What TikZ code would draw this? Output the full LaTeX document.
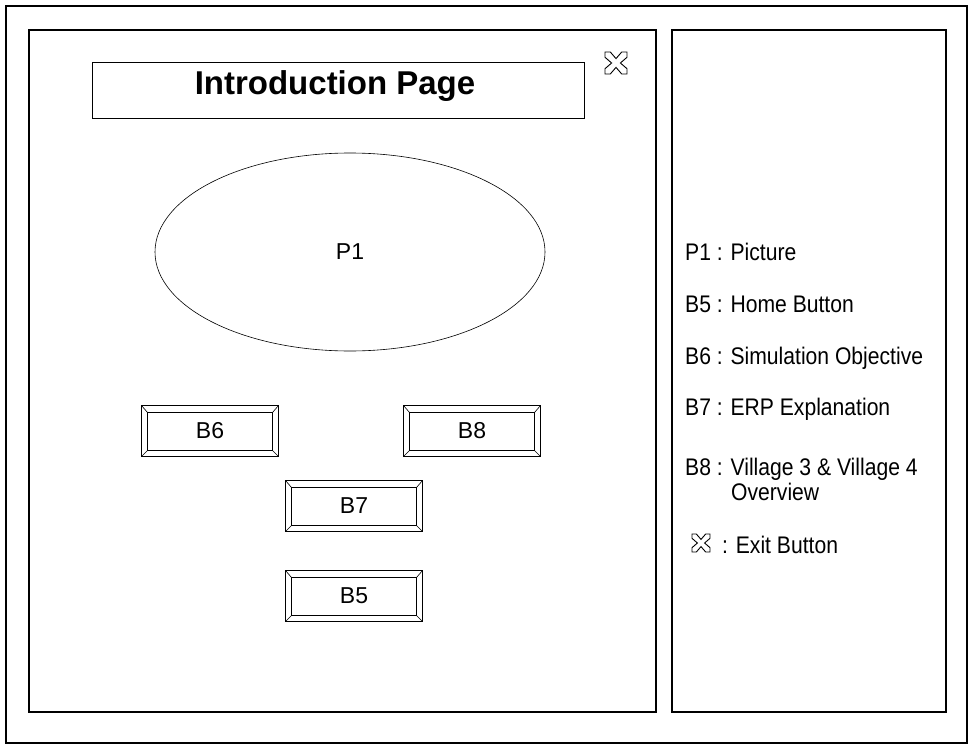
\documentclass[tikz,border=0pt]{standalone}
\usepackage{fontspec}
\setmainfont{Liberation Sans}
\newfontfamily\legendfont[FakeStretch=0.88]{Liberation Sans}
\usetikzlibrary{shapes.geometric,calc}
\tikzset{
  panel/.style={draw, line width=1.1pt},
  btn/.style={draw, line width=0.8pt, minimum width=137pt, minimum height=51pt, inner sep=0pt,
    font=\fontsize{23}{23}\selectfont,
    path picture={
      \path (path picture bounding box.north west) coordinate (o1)
            (path picture bounding box.south east) coordinate (o2)
            (path picture bounding box.north east) coordinate (o3)
            (path picture bounding box.south west) coordinate (o4);
      \draw[line width=1.4pt] ($(o1)+(6pt,-7pt)$) rectangle ($(o2)+(-6pt,6pt)$);
      \draw[line width=0.6pt] (o1) -- ($(o1)+(6pt,-7pt)$)
                              (o3) -- ($(o3)+(-6pt,-7pt)$)
                              (o2) -- ($(o2)+(-6pt,6pt)$)
                              (o4) -- ($(o4)+(6pt,6pt)$);
    }},
  legend/.style={anchor=base west, inner sep=0pt, font=\legendfont\fontsize{24}{24}\selectfont},
  exitshape/.style={draw, line width=0.9pt}
}
\newcommand{\exiticon}[3]{%
  \begin{scope}[shift={(#1,#2)}, scale=#3]
    \draw[exitshape] (-.5,-.5) -- (-.26,-.5) -- (0,-.2) -- (.26,-.5) -- (.5,-.5) -- (.5,-.26) -- (.2,0) -- (.5,.26) -- (.5,.5) -- (.26,.5) -- (0,.2) -- (-.26,.5) -- (-.5,.5) -- (-.5,.26) -- (-.2,0) -- (-.5,-.26) -- cycle;
  \end{scope}}
\begin{document}
\begin{tikzpicture}[x=1pt, y=-1pt]
  \useasboundingbox (0,0) rectangle (974,749);
  % frames
  \draw[line width=2.6pt] (6,6) rectangle (967,743);
  \node[panel, minimum width=627pt, minimum height=682pt, inner sep=0pt] (left) at (342.5,371) {};
  \node[panel, minimum width=274pt, minimum height=682pt, inner sep=0pt] (right) at (809,371) {};
  % title
  \node[draw, line width=0.9pt, minimum width=492pt, minimum height=56pt, inner sep=0pt] (titlebox) at (338,90) {};
  \node[anchor=base, inner sep=0pt, font=\fontsize{33}{33}\selectfont\bfseries] (title) at (335,95) {Introduction Page};
  % exit icon
  \coordinate (exit) at (616,63);
  \exiticon{616}{63}{22}
  % picture
  \node[draw, ellipse, line width=0.6pt, minimum width=390pt, minimum height=198pt, inner sep=0pt,
        font=\fontsize{23}{23}\selectfont] (p1) at (350,252) {P1};
  % buttons
  \node[btn] (b6) at (210,431) {B6};
  \node[btn] (b8) at (472,431) {B8};
  \node[btn] (b7) at (354,506) {B7};
  \node[btn] (b5) at (354,596) {B5};
  % legend
  \node[legend] (l1) at (685,260) {P1 : Picture};
  \node[legend] (l2) at (685,312) {B5 : Home Button};
  \node[legend] (l3) at (685,364) {B6 : Simulation Objective};
  \node[legend] (l4) at (685,415) {B7 : ERP Explanation};
  \node[legend] (l5) at (685,475) {B8 : Village 3 \& Village 4};
  \node[legend] (l6) at (731,500) {Overview};
  \coordinate (exitlegend) at (701,543);
  \exiticon{701}{543}{18}
  \node[legend] (l7) at (722,553) {: Exit Button};
\end{tikzpicture}
\end{document}
